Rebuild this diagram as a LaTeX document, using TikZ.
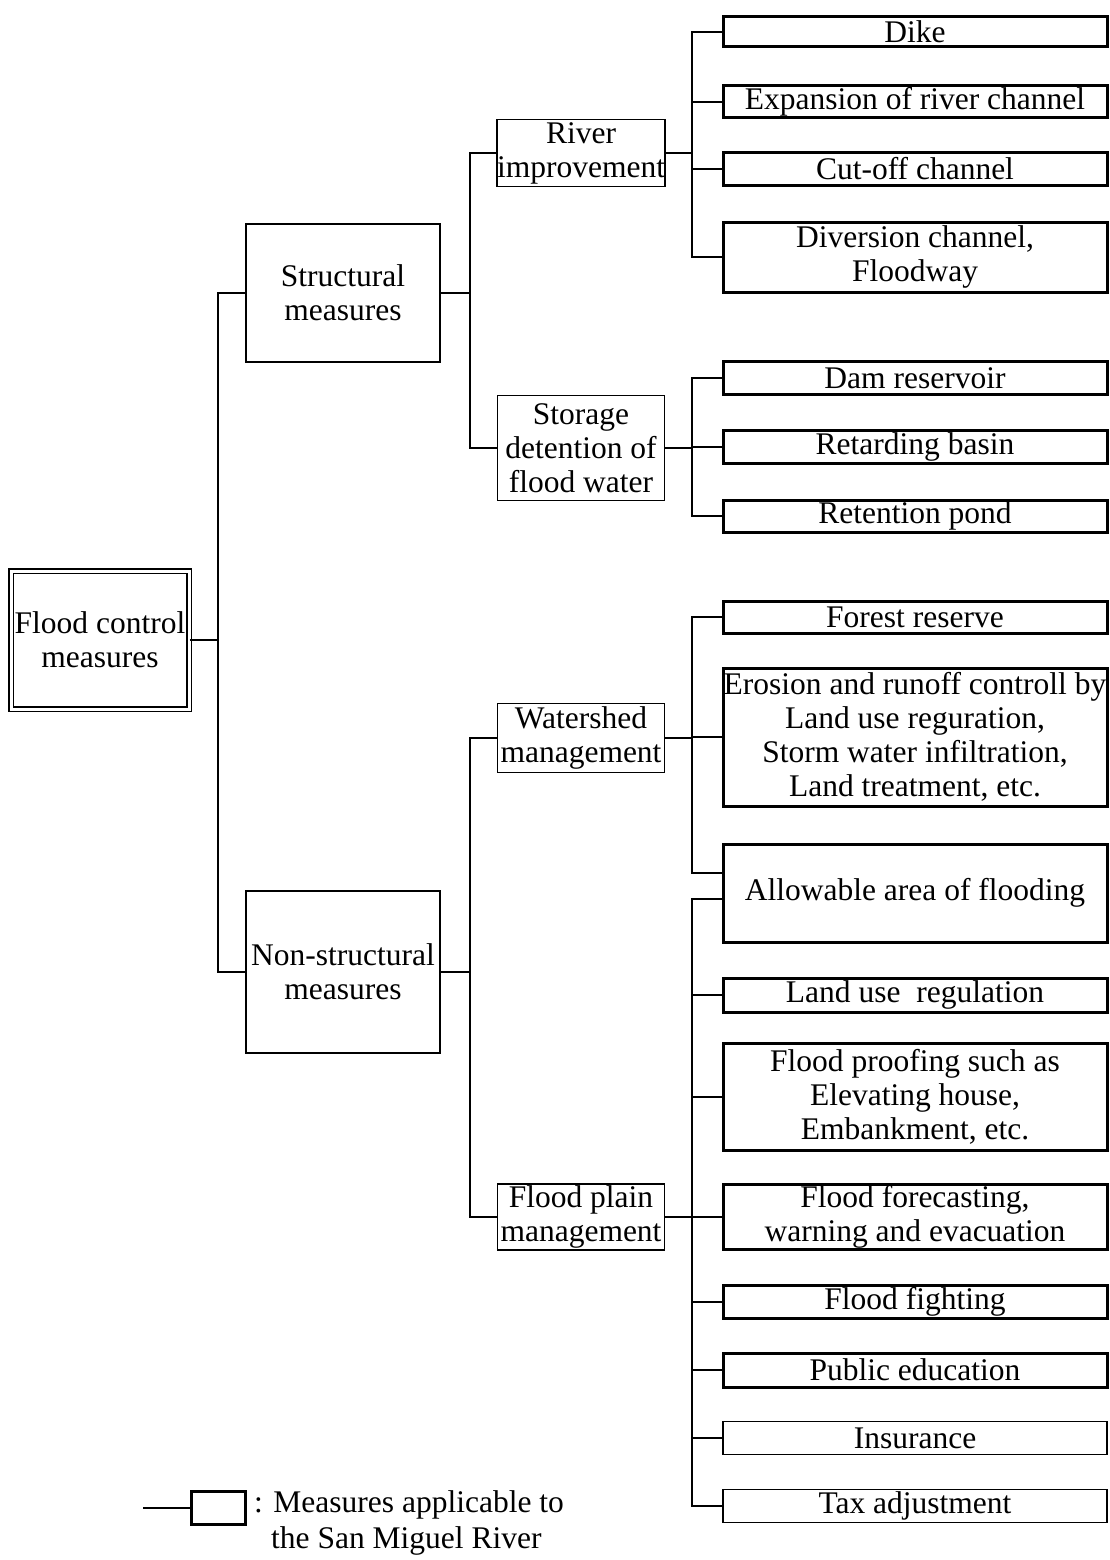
\documentclass[tikz,border=0pt]{standalone}
\usepackage{fontspec}
\setmainfont{Liberation Serif}
\begin{document}
\begin{tikzpicture}[x=1pt,y=-1pt,
  every node/.style={font=\fontsize{31.5}{34}\selectfont, align=center, inner sep=0pt},
  box/.style={draw, line width=1.6pt, rectangle},
  midbox/.style={box, minimum width=167pt},
  leaf/.style={draw, line width=3pt, minimum width=384pt},
  leafthin/.style={draw, line width=1.8pt, minimum width=384pt},
  conn/.style={line width=1.6pt}]
\useasboundingbox (0,0) rectangle (1109,1560);
\coordinate (v1) at (218,0);
\coordinate (v2) at (470,0);
\coordinate (v3) at (692,0);

% level 0
\node[draw, double, double distance=3pt, line width=1.3pt, minimum width=178pt, minimum height=138pt] (root) at (100,640) {Flood control\\measures};
% level 1
\node[box, minimum width=194pt, minimum height=138pt] (struct) at (343,293) {Structural\\measures};
\node[box, minimum width=194pt, minimum height=162pt] (nonstr) at (343,972) {Non-structural\\measures};
% level 2
\node[midbox, minimum height=67pt] (river) at (581,153) {River\\improvement};
\node[midbox, minimum height=105pt] (storage) at (581,448) {Storage\\detention of\\flood water};
\node[midbox, minimum height=69pt] (water) at (581,738) {Watershed\\management};
\node[midbox, minimum height=66pt] (plain) at (581,1217) {Flood plain\\management};
% leaves
\node[leaf, minimum height=30pt] (dike) at (915,32) {Dike};
\node[leaf, minimum height=32pt] (expan) at (915,102) {Expansion of river channel};
\node[leaf, minimum height=33pt] (cutoff) at (915,169) {Cut-off channel};
\node[leaf, minimum height=70pt] (divers) at (915,257) {Diversion channel,\\Floodway};
\node[leaf, minimum height=33pt] (dam) at (915,378) {Dam reservoir};
\node[leaf, minimum height=33pt] (retard) at (915,447) {Retarding basin};
\node[leaf, minimum height=32pt] (retent) at (915,516) {Retention pond};
\node[leaf, minimum height=32pt] (forest) at (915,617) {Forest reserve};
\node[leaf, minimum height=138pt] (erosion) at (915,737) {Erosion and runoff controll by\\Land use reguration,\\Storm water infiltration,\\Land treatment, etc.};
\node[leaf, minimum height=98pt] (allow) at (915,893) {Allowable area of flooding};
\node[leaf, minimum height=34pt] (landuse) at (915,995) {Land use\ \ regulation};
\node[leaf, minimum height=107pt] (proof) at (915,1097) {Flood proofing such as\\Elevating house,\\Embankment, etc.};
\node[leaf, minimum height=65pt] (forecast) at (915,1217) {Flood forecasting,\\warning and evacuation};
\node[leaf, minimum height=33pt] (fight) at (915,1302) {Flood fighting};
\node[leaf, minimum height=34pt] (public) at (915,1370) {Public education};
\node[leafthin, minimum height=33pt] (insur) at (915,1438) {Insurance};
\node[leafthin, minimum height=33pt] (tax) at (915,1506) {Tax adjustment};

% connectors level 0-1
\draw[conn] (root.east) -- (root.east -| v1);
\draw[conn] (struct.west) -- (struct.west -| v1) -- (nonstr.west -| v1) -- (nonstr.west);
% structural
\draw[conn] (struct.east) -- (struct.east -| v2);
\draw[conn] (river.west) -- (river.west -| v2) -- (storage.west -| v2) -- (storage.west);
\draw[conn] (river.east) -- (river.east -| v3);
\draw[conn] (dike.west) -- (dike.west -| v3) -- (divers.west -| v3) -- (divers.west);
\draw[conn] (expan.west) -- (expan.west -| v3);
\draw[conn] (cutoff.west) -- (cutoff.west -| v3);
\draw[conn] (storage.east) -- (storage.east -| v3);
\draw[conn] (dam.west) -- (dam.west -| v3) -- (retent.west -| v3) -- (retent.west);
\draw[conn] (retard.west) -- (retard.west -| v3);
% non-structural
\draw[conn] (nonstr.east) -- (nonstr.east -| v2);
\draw[conn] (water.west) -- (water.west -| v2) -- (plain.west -| v2) -- (plain.west);
\draw[conn] (water.east) -- (water.east -| v3);
\draw[conn] (forest.west) -- (forest.west -| v3) -- ([yshift=20pt]allow.west -| v3) -- ([yshift=20pt]allow.west);
\draw[conn] (erosion.west) -- (erosion.west -| v3);
\draw[conn] (plain.east) -- (plain.east -| v3);
\draw[conn] ([yshift=-6pt]allow.west) -- ([yshift=-6pt]allow.west -| v3) -- (tax.west -| v3) -- (tax.west);
\draw[conn] (landuse.west) -- (landuse.west -| v3);
\draw[conn] (proof.west) -- (proof.west -| v3);
\draw[conn] (forecast.west) -- (forecast.west -| v3);
\draw[conn] (fight.west) -- (fight.west -| v3);
\draw[conn] (public.west) -- (public.west -| v3);
\draw[conn] (insur.west) -- (insur.west -| v3);

% legend
\coordinate (lgstart) at (143,1508);
\node[draw, line width=3pt, minimum width=54pt, minimum height=33pt] (lgbox) at (218,1508) {};
\draw[conn] (lgstart) -- (lgbox.west);
\node[anchor=north west, align=left] (lgtext) at (254,1490) {: Measures applicable to\\[2pt]\hspace{17pt}the San Miguel River};
\end{tikzpicture}
\end{document}
